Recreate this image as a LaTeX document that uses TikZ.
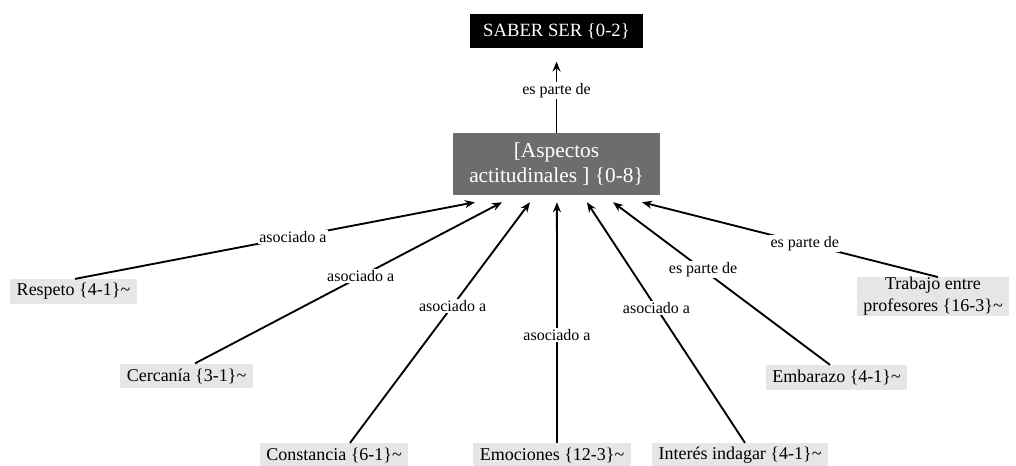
\documentclass[tikz,border=0pt]{standalone}
\usepackage{fontspec}
\setmainfont{Liberation Serif}
\usepackage{tikz}
\usetikzlibrary{arrows.meta,positioning,calc}
\definecolor{midgray}{RGB}{109,109,109}
\definecolor{leafgray}{RGB}{230,230,230}

\begin{document}
\begin{tikzpicture}[
  x=0.75pt, y=-0.75pt,
  top/.style={fill=black, text=white, minimum width=130pt, minimum height=25.5pt,
              inner sep=0pt, font=\fontsize{14}{16}\selectfont},
  mid/.style={fill=midgray, text=white, minimum width=155pt, minimum height=46.5pt,
              inner sep=0pt, align=center, font=\fontsize{16}{18.5}\selectfont},
  leaf/.style={fill=leafgray, inner xsep=5pt, minimum height=18.5pt, inner ysep=0pt,
               align=center, font=\fontsize{13.5}{16.5}\selectfont},
  lbl/.style={fill=white, inner sep=1pt, font=\fontsize{12}{14}\selectfont},
  arrow/.style={-{Stealth[length=7.5pt,width=6pt]}, line width=1.4pt}
]
\useasboundingbox (0,0) rectangle (1016,466);

\node[top] (saber) at (556.5,31) {SABER SER \{0-2\}};
\node[mid] (asp) at (556.5,164) {[Aspectos\\actitudinales ] \{0-8\}};

\node[leaf] (resp) at (73.5,291.5)  {Respeto \{4-1\}\textasciitilde};
\node[leaf] (cerc) at (186.5,376)   {Cercanía \{3-1\}\textasciitilde};
\node[leaf] (cons) at (334,455.5)   {Constancia \{6-1\}\textasciitilde};
\node[leaf] (emo)  at (552,455.5)   {Emociones \{12-3\}\textasciitilde};
\node[leaf] (inte) at (740,455.5)   {Interés indagar \{4-1\}\textasciitilde};
\node[leaf] (emb)  at (836.5,377.5) {Embarazo \{4-1\}\textasciitilde};
\node[leaf] (trab) at (933,296.5)   {Trabajo entre\\profesores \{16-3\}\textasciitilde};

\draw[arrow, shorten >=10pt] (asp.north) -- node[lbl]{es parte de} (saber.south);

\draw[arrow] ($(resp.north)+(1.5,0)$) -- node[lbl,pos=0.545]{asociado a}
  ($(asp.south west)!0.106!(asp.south east)+(0,7)$);
\draw[arrow] ($(cerc.north)+(8.5,0)$) -- node[lbl,pos=0.54]{asociado a}
  ($(asp.south west)!0.237!(asp.south east)+(0,7)$);
\draw[arrow] ($(cons.north)+(16,0)$) -- node[lbl,pos=0.57]{asociado a}
  ($(asp.south west)!0.372!(asp.south east)+(0,7)$);
\draw[arrow] ($(emo.north)+(5,0)$) -- node[lbl,pos=0.45]{asociado a}
  ($(asp.south west)!0.502!(asp.south east)+(0,7)$);
\draw[arrow] ($(inte.north)+(5,0)$) -- node[lbl,pos=0.56]{asociado a}
  ($(asp.south west)!0.647!(asp.south east)+(0,7)$);
\draw[arrow] ($(emb.north)+(-6.5,0)$) -- node[lbl,pos=0.585]{es parte de}
  ($(asp.south west)!0.773!(asp.south east)+(0,7)$);
\draw[arrow] ($(trab.north)+(5,0)$) -- node[lbl,pos=0.45]{es parte de}
  ($(asp.south west)!0.913!(asp.south east)+(0,7)$);
\end{tikzpicture}
\end{document}
